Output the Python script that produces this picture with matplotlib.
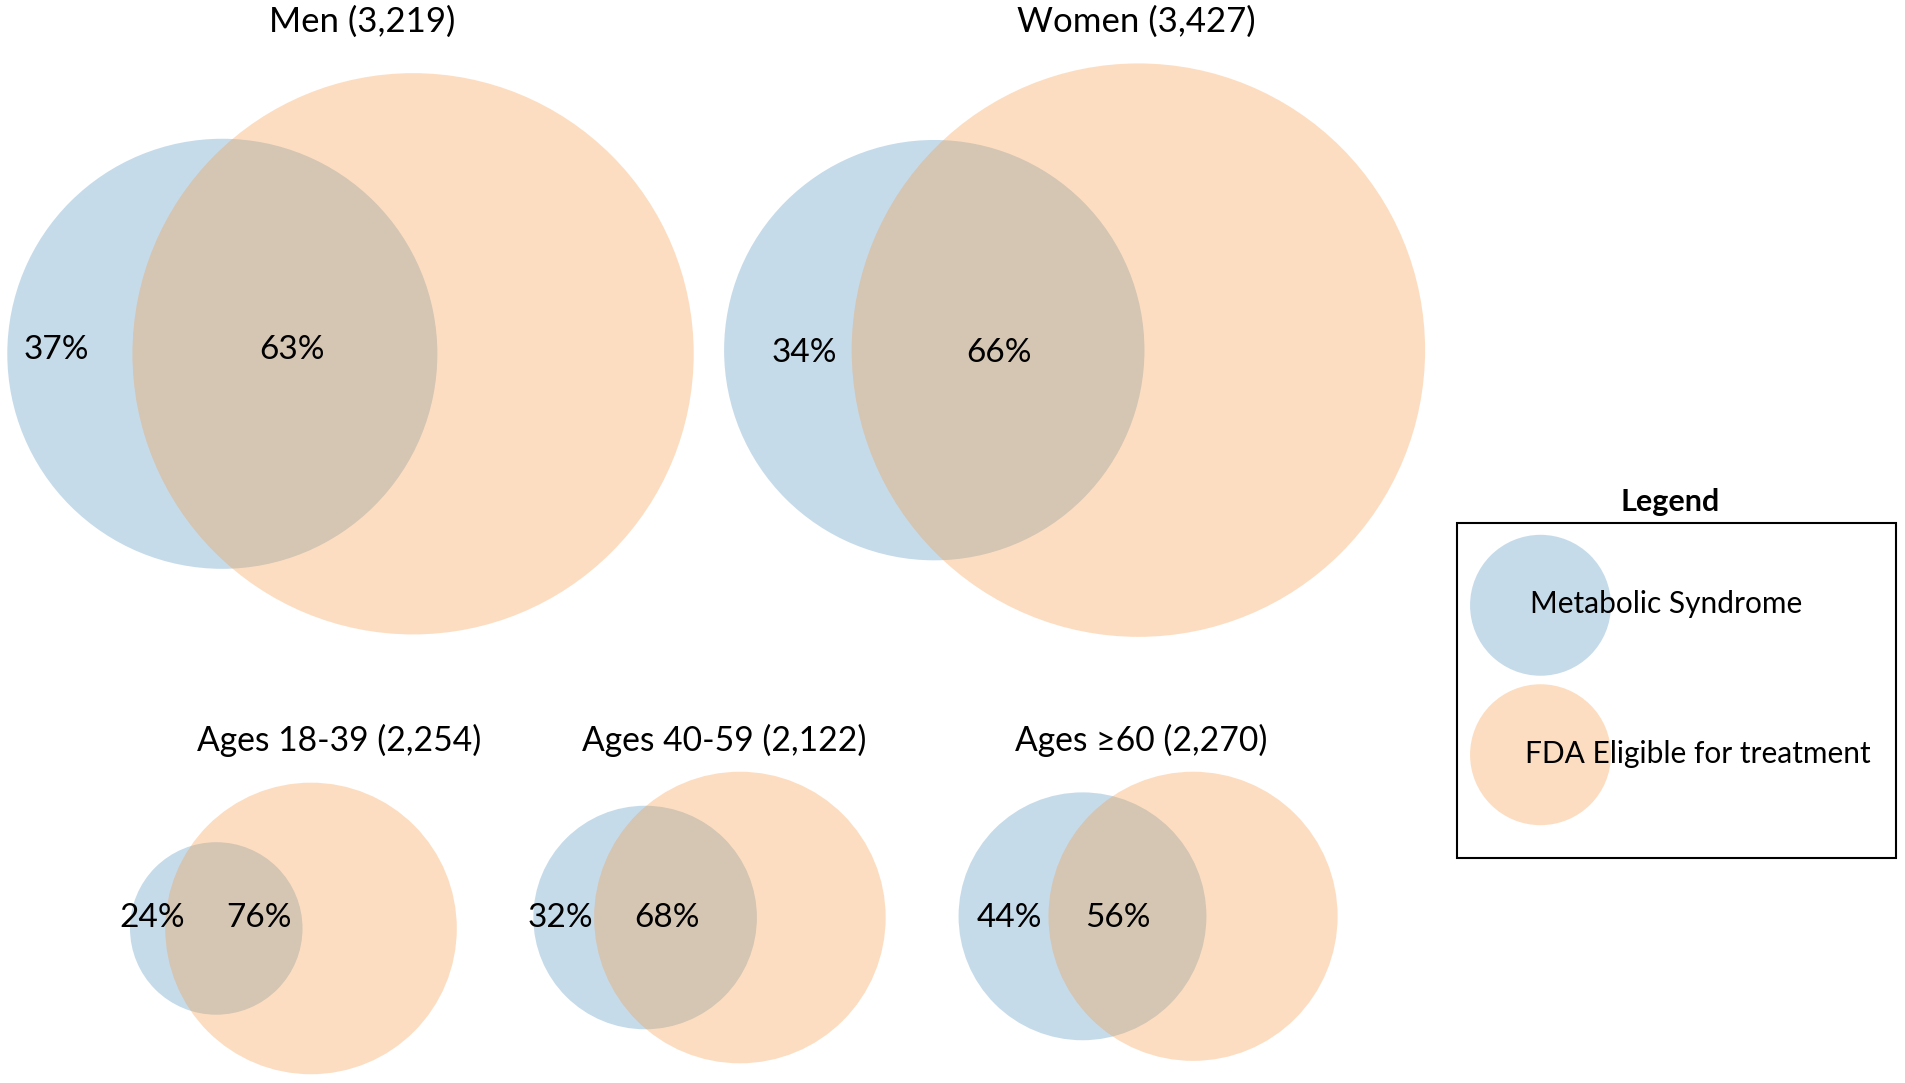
import matplotlib.pyplot as plt
from matplotlib.patches import Circle, Rectangle

# Groups and their sizes
groups = ['Men', 'Women', 'Ages 18-39', 'Ages 40-59', 'Ages \u226560']
group_n = ['3,219', '3,427', '2,254', '2,122', '2,270']

# share of the Metabolic Syndrome set outside / inside the FDA-eligible set (%)
mets_only = [37, 34, 24, 32, 44]
overlap = [63, 66, 76, 68, 56]

# circle radii (area-scaled set sizes)
mets_r = [177, 173, 71, 92, 102]
fda_r = [231, 236, 120, 120, 119]

legend_labels = ['Metabolic Syndrome', 'FDA Eligible for treatment']

# layout (picture units): circle centres, label positions, title anchors
mets_xy = [(183, 291), (769, 288), (178, 764), (531, 755), (891, 754)]
fda_xy = [(340, 291), (937, 288), (256, 764), (609, 755), (982, 754)]
label_x = [(46, 240), (662, 822), (125, 213), (461, 549), (831, 920)]
label_y = [288, 290, 755, 755, 755]
title_pos = [(298, 18), (935, 18), (279, 609), (596, 609), (939, 609)]
title_size = [25, 25, 24.2, 24.2, 24.2]

blue = '#c6dbea'
orange = (246/255, 152/255, 64/255)
orange_alpha = 0.32

plt.rcParams['font.family'] = ['Lato', 'DejaVu Sans']

fig = plt.figure(figsize=(19.05, 10.83), dpi=100)
ax = fig.add_axes([0, 0, 1, 1])
ax.set_xlim(0, 1568)
ax.set_ylim(891, 0)
ax.set_aspect('equal')
ax.axis('off')

for i in range(len(groups)):
    ax.add_patch(Circle(mets_xy[i], mets_r[i], facecolor=blue, lw=0))
    ax.add_patch(Circle(fda_xy[i], fda_r[i], facecolor=orange, alpha=orange_alpha, lw=0))

    ax.text(label_x[i][0], label_y[i], f'{mets_only[i]}%', ha='center', va='center', fontsize=24)
    ax.text(label_x[i][1], label_y[i], f'{overlap[i]}%', ha='center', va='center', fontsize=24)

    tx, ty = title_pos[i]
    ax.text(tx, ty, f'{groups[i]} ({group_n[i]})', ha='center', va='center',
            fontsize=title_size[i])

# legend box
ax.add_patch(Rectangle((1199, 430), 362, 276, facecolor='none', edgecolor='black', lw=1.5))
ax.text(1375, 413, 'Legend', ha='center', va='center', fontsize=22, fontweight='bold')
ax.add_patch(Circle((1268, 498), 58, facecolor=blue, lw=0))
ax.add_patch(Circle((1268, 621), 58, facecolor=orange, alpha=orange_alpha, lw=0))
ax.text(1259, 497, legend_labels[0], ha='left', va='center', fontsize=21.5)
ax.text(1255, 620, legend_labels[1], ha='left', va='center', fontsize=21.5)

plt.savefig('out.png', dpi=100)
